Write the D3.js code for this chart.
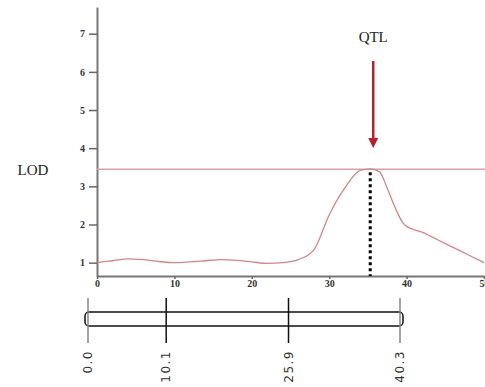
<!DOCTYPE html>
<html>
<head>
<meta charset="utf-8">
<script src="https://cdn.jsdelivr.net/npm/d3@7"></script>
<style>
  body { margin: 0; background: #fff; }
  #chart { width: 485px; height: 387px; }
</style>
</head>
<body>
<div id="chart"></div>
<script>
// LOD profile (cM, LOD)
const lodPos = [0, 2, 4, 6, 8, 10, 12, 14, 16, 18, 20, 22, 24, 26, 28, 30, 32, 34, 35.3, 36.5, 37.5, 38.5, 39.5, 40, 42, 44, 46, 48, 50]
const lodVal = [1.0, 1.05, 1.1, 1.08, 1.03, 1.0, 1.02, 1.05, 1.08, 1.06, 1.02, 0.98, 1.0, 1.08, 1.33, 2.25, 2.95, 3.42, 3.46, 3.38, 2.95, 2.45, 2.05, 1.95, 1.8, 1.6, 1.4, 1.2, 1.0]
const yTicks = [1, 2, 3, 4, 5, 6, 7]
const xTicks = [0, 10, 20, 30, 40, 50]
const threshold = 3.45
const qtlPos = 35.3
// linkage map markers
const markerNames = ['0.0', '10.1', '25.9', '40.3']
const markerPos = [0.0, 10.1, 25.9, 40.3]

let width = 485
let height = 387

let svg = d3.select('#chart')
  .append('svg')
  .attr('width', width)
  .attr('height', height)

let x = d3.scaleLinear().domain([0, 50]).range([97, 484])
let y = d3.scaleLinear().domain([0.65, 7.7]).range([276, 7])

// axes
let gy = svg.append('g')
  .attr('transform', 'translate(97,0)')
  .call(d3.axisLeft(y).tickValues(yTicks).tickSize(8).tickSizeOuter(0).tickFormat(d3.format('d')))
let gx = svg.append('g')
  .attr('transform', 'translate(0,276)')
  .call(d3.axisBottom(x).tickValues(xTicks).tickSize(3).tickSizeOuter(0).tickFormat(d3.format('d')))
svg.selectAll('.domain').attr('stroke', '#777').attr('stroke-width', 2)
svg.selectAll('.tick line').attr('stroke', '#666').attr('stroke-width', 1.5)
svg.selectAll('.tick text')
  .attr('fill', '#333')
  .style('font-family', 'Liberation Serif, serif')
  .style('font-weight', 'bold')
  .style('font-size', '10px')
gy.selectAll('.tick text').attr('x', -12)
gx.selectAll('.tick text').attr('y', 4)

// significance threshold
svg.append('line')
  .attr('x1', x(0)).attr('x2', 485)
  .attr('y1', y(threshold)).attr('y2', y(threshold))
  .attr('stroke', '#d9a3a3').attr('stroke-width', 1.5)

// LOD curve
let line = d3.line()
  .x(function (d, i) { return x(lodPos[i]) })
  .y(function (d) { return y(d) })
  .curve(d3.curveMonotoneX)
svg.append('path')
  .attr('d', line(lodVal))
  .attr('fill', 'none')
  .attr('stroke', '#d38585')
  .attr('stroke-width', 1.3)

// dotted line under the peak
svg.append('line')
  .attr('x1', x(qtlPos)).attr('x2', x(qtlPos))
  .attr('y1', y(threshold) + 3).attr('y2', y(0.65))
  .attr('stroke', '#000').attr('stroke-width', 3)
  .attr('stroke-dasharray', '3,3')

// arrow
svg.append('defs').append('marker')
  .attr('id', 'head')
  .attr('viewBox', '0 0 10 10')
  .attr('refX', 5).attr('refY', 5)
  .attr('markerWidth', 4).attr('markerHeight', 4)
  .attr('orient', 'auto')
  .append('path')
  .attr('d', 'M0,0L10,5L0,10z')
  .attr('fill', '#b3202e')
svg.append('line')
  .attr('x1', x(qtlPos) + 3).attr('x2', x(qtlPos) + 3)
  .attr('y1', 61).attr('y2', 143)
  .attr('stroke', '#b3202e').attr('stroke-width', 2.5)
  .attr('marker-end', 'url(#head)')

svg.append('text')
  .attr('x', x(qtlPos) + 3).attr('y', 42)
  .attr('text-anchor', 'middle')
  .style('font-family', 'Liberation Serif, serif')
  .style('font-size', '15px')
  .attr('fill', '#222')
  .text('QTL')
svg.append('text')
  .attr('x', 33).attr('y', 175)
  .attr('text-anchor', 'middle')
  .style('font-family', 'Liberation Serif, serif')
  .style('font-size', '15px')
  .attr('fill', '#222')
  .text('LOD')

// linkage group bar
let m = d3.scaleLinear().domain([0, 40.3]).range([88, 400])
svg.append('rect')
  .attr('x', m(0) - 3).attr('y', 312)
  .attr('width', m(40.3) - m(0) + 6).attr('height', 14)
  .attr('rx', 4)
  .attr('fill', 'none').attr('stroke', '#111').attr('stroke-width', 1.5)
let mk = svg.selectAll('g.marker')
  .data(markerPos)
  .enter()
  .append('g')
  .attr('class', 'marker')
  .attr('transform', function (d) { return 'translate(' + m(d) + ',0)' })
mk.append('line')
  .attr('y1', 298).attr('y2', 343)
  .attr('stroke', function (d, i) { return (i === 0 || i === markerPos.length - 1) ? '#888' : '#111' })
  .attr('stroke-width', 1.5)
mk.append('text')
  .attr('transform', 'translate(4,350) rotate(-90)')
  .attr('text-anchor', 'end')
  .style('font-family', 'DejaVu Sans, sans-serif')
  .style('font-size', '12px')
  .style('letter-spacing', '1.5px')
  .attr('fill', '#333')
  .text(function (d, i) { return markerNames[i] })
</script>
</body>
</html>
